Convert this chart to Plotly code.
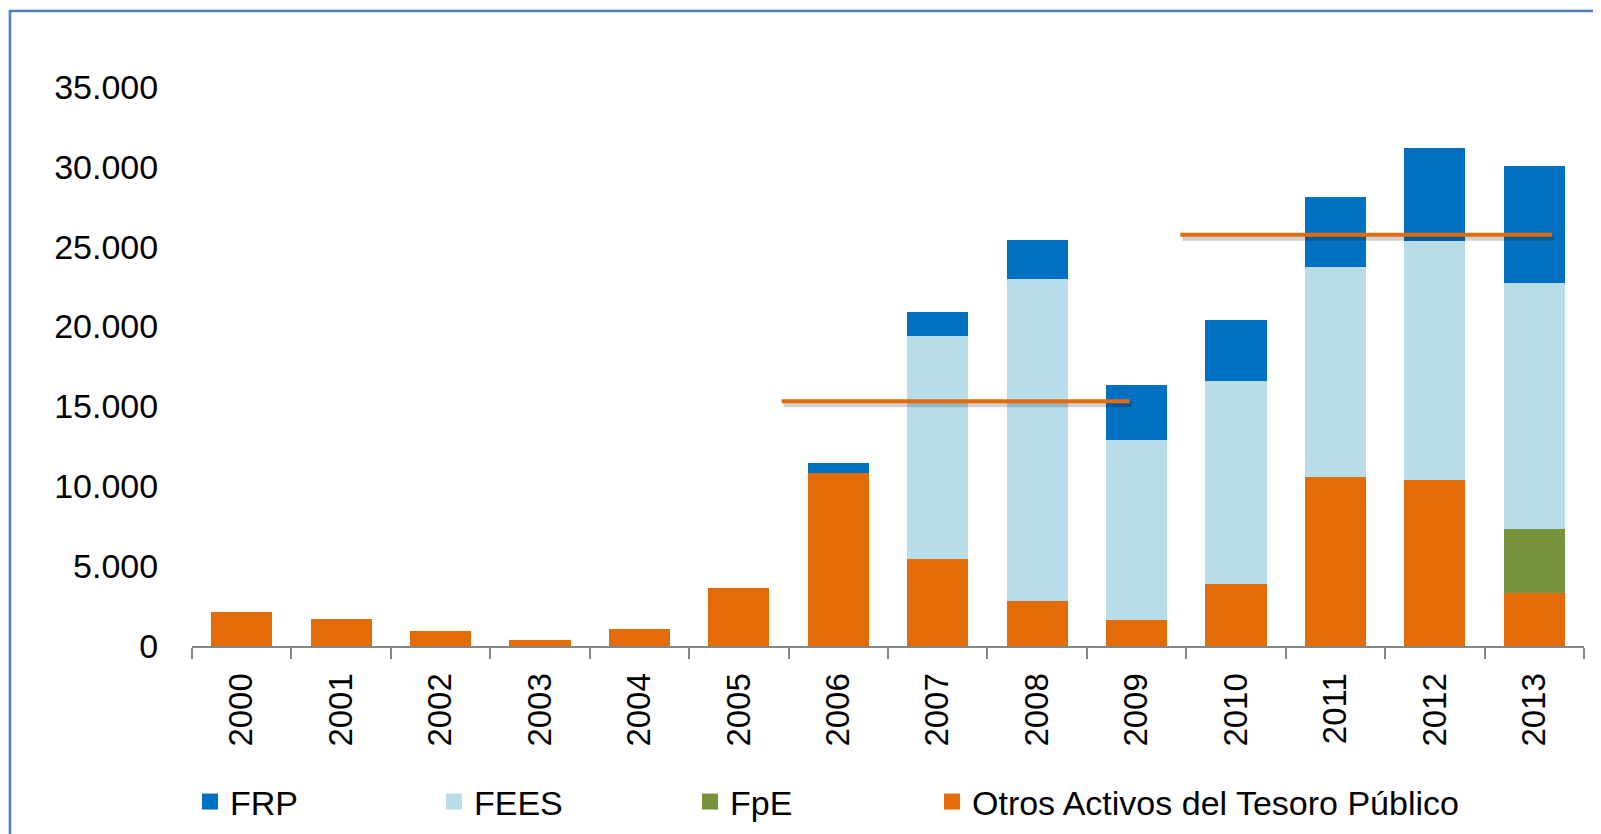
import plotly.graph_objects as go

years = ["2000", "2001", "2002", "2003", "2004", "2005", "2006",
         "2007", "2008", "2009", "2010", "2011", "2012", "2013"]

# Stack components (millions), bottom to top
otros = [2100, 1700, 950, 380, 1050, 3620, 10850, 5420, 2800, 1640, 3880, 10600, 10420, 3340]
fpe   = [0, 0, 0, 0, 0, 0, 0, 0, 0, 0, 0, 0, 0, 3990]
fees  = [0, 0, 0, 0, 0, 0, 0, 14000, 20210, 11260, 12730, 13100, 14960, 15420]
frp   = [0, 0, 0, 0, 0, 0, 600, 1480, 2430, 3450, 3780, 4420, 5830, 7290]

# Reference lines: level, start and end position (category index units)
ref_levels = [15330, 25750]
ref_start = [5.43, 9.44]
ref_end = [8.93, 13.18]

series_names = ["FRP", "FEES", "FpE", "Otros Activos del Tesoro Público"]

C_FRP = "#0070C0"
C_FEES = "#B7DDE8"
C_FPE = "#77933C"
C_OTROS = "#E36C09"
series_colors = [C_FRP, C_FEES, C_FPE, C_OTROS]

OFF = 8  # browser default page margin
W, H = 1601 - OFF, 834 - OFF
ML = 192 - OFF
MR = W - (1584 - OFF)
MT = 87 - OFF
MB = H - (646 - OFF)
YMAX = 35000
pw = W - ML - MR
ph = H - MT - MB
px_per_unit = ph / YMAX

FONT = "Liberation Sans"

# legend text start positions in reference pixels -> paper coords
legend_text_px = [231, 475, 731, 973]
legend_x = [(p - OFF - 41 - ML) / pw for p in legend_text_px]
legend_ids = ["legend", "legend2", "legend3", "legend4"]

fig = go.Figure()
for vals, nm, col in [(otros, series_names[3], C_OTROS), (fpe, series_names[2], C_FPE),
                      (fees, series_names[1], C_FEES), (frp, series_names[0], C_FRP)]:
    fig.add_trace(go.Bar(x=years, y=vals, name=nm, showlegend=False,
                         marker=dict(color=col, line=dict(width=0))))

# legend entries (square swatches)
for nm, col, lid in zip(series_names, series_colors, legend_ids):
    fig.add_trace(go.Scatter(x=[None], y=[None], mode="markers", name=nm, legend=lid,
                             marker=dict(symbol="square", size=20, color=col,
                                         line=dict(width=0)),
                             hoverinfo="skip"))

shapes = []
# Outer frame of the slide chart
shapes.append(dict(type="rect", xref="paper", yref="paper",
                   x0=(10 - OFF - ML) / pw, x1=1.2, y0=-0.6,
                   y1=(H - MB - (11 - OFF)) / ph,
                   line=dict(color="#4F81BD", width=2.5), fillcolor="white", layer="below"))
for lv, xs, xe in zip(ref_levels, ref_start, ref_end):
    off = 3 / px_per_unit
    shapes.append(dict(type="line", xref="x", yref="y", x0=xs + 0.02, x1=xe + 0.02,
                       y0=lv - off, y1=lv - off,
                       line=dict(color="rgba(0,0,0,0.18)", width=6), layer="above"))
    shapes.append(dict(type="line", xref="x", yref="y", x0=xs, x1=xe, y0=lv, y1=lv,
                       line=dict(color=C_OTROS, width=4), layer="above"))

def leg(xp):
    return dict(orientation="h", x=xp, xanchor="left", y=-0.279, yanchor="middle",
                font=dict(family=FONT, size=34, color="black"),
                bgcolor="rgba(0,0,0,0)")

fig.update_layout(
    width=W, height=H,
    margin=dict(l=ML, r=MR, t=MT, b=MB, autoexpand=False),
    barmode="stack", bargap=0.386,
    paper_bgcolor="#F5F5F5", plot_bgcolor="rgba(0,0,0,0)",
    separators=",.",
    font=dict(family=FONT, size=33, color="black"),
    shapes=shapes,
    showlegend=True,
    legend=leg(legend_x[0]),
    legend2=leg(legend_x[1]),
    legend3=leg(legend_x[2]),
    legend4=leg(legend_x[3]),
    xaxis=dict(type="category", categoryorder="array", categoryarray=years,
               tickson="boundaries", ticks="outside", ticklen=11,
               tickwidth=2, tickcolor="#868686", showline=True, linecolor="#868686",
               linewidth=2, tickangle=-90, showgrid=False, ticklabelstandoff=12,
               tickfont=dict(family=FONT, size=33, color="black")),
    yaxis=dict(range=[0, YMAX], tickvals=[0, 5000, 10000, 15000, 20000, 25000, 30000, 35000],
               tickformat=",d", showgrid=False, zeroline=False, showline=False,
               ticks="outside", ticklen=0, ticklabelstandoff=26,
               tickfont=dict(family=FONT, size=34, color="black")),
)

fig.write_html("out.html")
